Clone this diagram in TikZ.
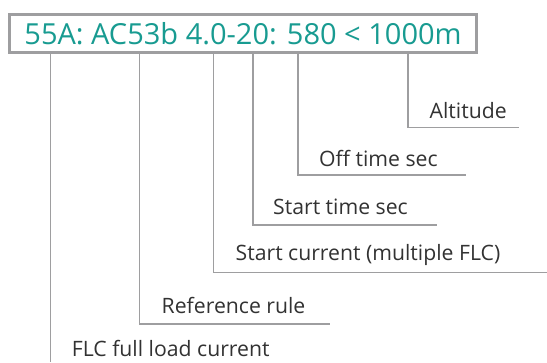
\documentclass[tikz,border=0pt]{standalone}
\usepackage{fontspec}
\setmainfont{Open Sans}
\usepackage{xcolor}
\usetikzlibrary{positioning}
\definecolor{codeteal}{RGB}{24,155,145}
\definecolor{leadgray}{RGB}{158,158,160}
\definecolor{labeltext}{RGB}{50,50,50}

\begin{document}
\begin{tikzpicture}[x=1pt, y=-1pt]
\tikzstyle{codebox}=[
    draw=leadgray,
    line width=2.7pt,
    fill=white,
    text=codeteal,
    inner sep=0pt,
    minimum width=467pt,
    minimum height=38.5pt, % caja del codigo
    font=\fontsize{29}{32}\selectfont
]
\tikzstyle{lbl}=[anchor=base west, inner sep=0pt, text=labeltext,
    font=\fontsize{21.2}{24}\selectfont]
\tikzstyle{lead}=[-, line width=1.6pt, leadgray]

\useasboundingbox (0,0) rectangle (547,362);

% Codigo
\node[codebox] (code) at (243,33.5) {55A: AC53b 4.0-20: 580 < 1000m};

% Etiquetas
\node[lbl] (alt)  at (429.5,118) {Altitude};
\node[lbl] (offt) at (319,166)   {Off time sec};
\node[lbl] (strt) at (273,214)   {Start time sec};
\node[lbl] (curr) at (235.5,260) {Start current (multiple FLC)};
\node[lbl] (refr) at (161.5,313) {Reference rule};
\node[lbl] (flc)  at (71.7,356)  {FLC full load current};

% Esquinas y extremos
\coordinate (alt-c)  at (408,127.5);   \coordinate (alt-e)  at (519,127.5);
\coordinate (offt-c) at (298,175);     \coordinate (offt-e) at (466,175);
\coordinate (strt-c) at (253,225);     \coordinate (strt-e) at (437,225);
\coordinate (curr-c) at (213.5,272.5); \coordinate (curr-e) at (547,272.5);
\coordinate (refr-c) at (139.5,324);   \coordinate (refr-e) at (330,324);
\coordinate (flc-e)  at (50.5,362);

% Lineas
\draw[lead] (code.south -| alt-c) -- (alt-c) -- (alt-e);
\draw[lead] (code.south -| offt-c) -- (offt-c) -- (offt-e);
\draw[lead] (code.south -| strt-c) -- (strt-c) -- (strt-e);
\draw[lead] (code.south -| curr-c) -- (curr-c) -- (curr-e);
\draw[lead] (code.south -| refr-c) -- (refr-c) -- (refr-e);
\draw[lead] (code.south -| flc-e) -- (flc-e);

\end{tikzpicture}
\end{document}
